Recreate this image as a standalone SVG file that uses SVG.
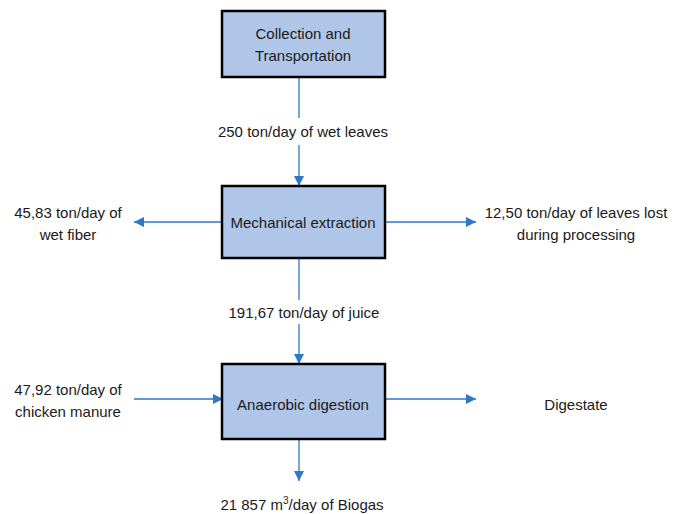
<svg xmlns="http://www.w3.org/2000/svg" width="684" height="514" viewBox="0 0 684 514">
<defs>
<style>
.box{fill:#B0C6E8;stroke:#000;stroke-width:2.5}
.lbl{font-family:"Liberation Sans",Arial,sans-serif;font-size:15px;fill:#1a1a1a;text-anchor:middle}
.con{stroke:#2E78C6;stroke-width:1.3;fill:none}
</style>
<marker id="ah" viewBox="0 0 10 10" refX="10" refY="5" markerWidth="10" markerHeight="10" markerUnits="userSpaceOnUse" orient="auto">
<path d="M0,0 L10,5 L0,10 z" fill="#2E78C6"/>
</marker>
</defs>
<rect width="684" height="514" fill="#fff"/>
<g id="connectors">
<line class="con" x1="299" y1="77" x2="299" y2="118"/>
<line class="con" x1="299" y1="145" x2="299" y2="186" marker-end="url(#ah)"/>
<line class="con" x1="221" y1="222" x2="134" y2="222" marker-end="url(#ah)"/>
<line class="con" x1="385" y1="222" x2="476" y2="222" marker-end="url(#ah)"/>
<line class="con" x1="299" y1="258" x2="299" y2="300"/>
<line class="con" x1="299" y1="324" x2="299" y2="364" marker-end="url(#ah)"/>
<line class="con" x1="134" y1="399" x2="223" y2="399" marker-end="url(#ah)"/>
<line class="con" x1="385" y1="399" x2="476" y2="399" marker-end="url(#ah)"/>
<line class="con" x1="299" y1="439" x2="299" y2="481" marker-end="url(#ah)"/>
</g>
<g id="n1">
<rect class="box" x="222" y="11" width="163" height="66"/>
<text class="lbl" x="303" y="39">Collection and</text>
<text class="lbl" x="303" y="61">Transportation</text>
</g>
<g id="n2">
<rect class="box" x="222" y="186" width="163" height="72"/>
<text class="lbl" x="303" y="228">Mechanical extraction</text>
</g>
<g id="n3">
<rect class="box" x="222" y="364" width="163" height="75"/>
<text class="lbl" x="303" y="410">Anaerobic digestion</text>
</g>
<g id="labels">
<text class="lbl" x="303" y="137">250 ton/day of wet leaves</text>
<text class="lbl" x="68" y="218">45,83 ton/day of</text>
<text class="lbl" x="68" y="240">wet fiber</text>
<text class="lbl" x="576" y="218">12,50 ton/day of leaves lost</text>
<text class="lbl" x="576" y="240">during processing</text>
<text class="lbl" x="304" y="318">191,67 ton/day of juice</text>
<text class="lbl" x="68" y="395">47,92 ton/day of</text>
<text class="lbl" x="68" y="417">chicken manure</text>
<text class="lbl" x="576" y="410">Digestate</text>
<text class="lbl" x="302" y="510">21 857 m<tspan font-size="10" dy="-6">3</tspan><tspan dy="6">/day of Biogas</tspan></text>
</g>
</svg>
